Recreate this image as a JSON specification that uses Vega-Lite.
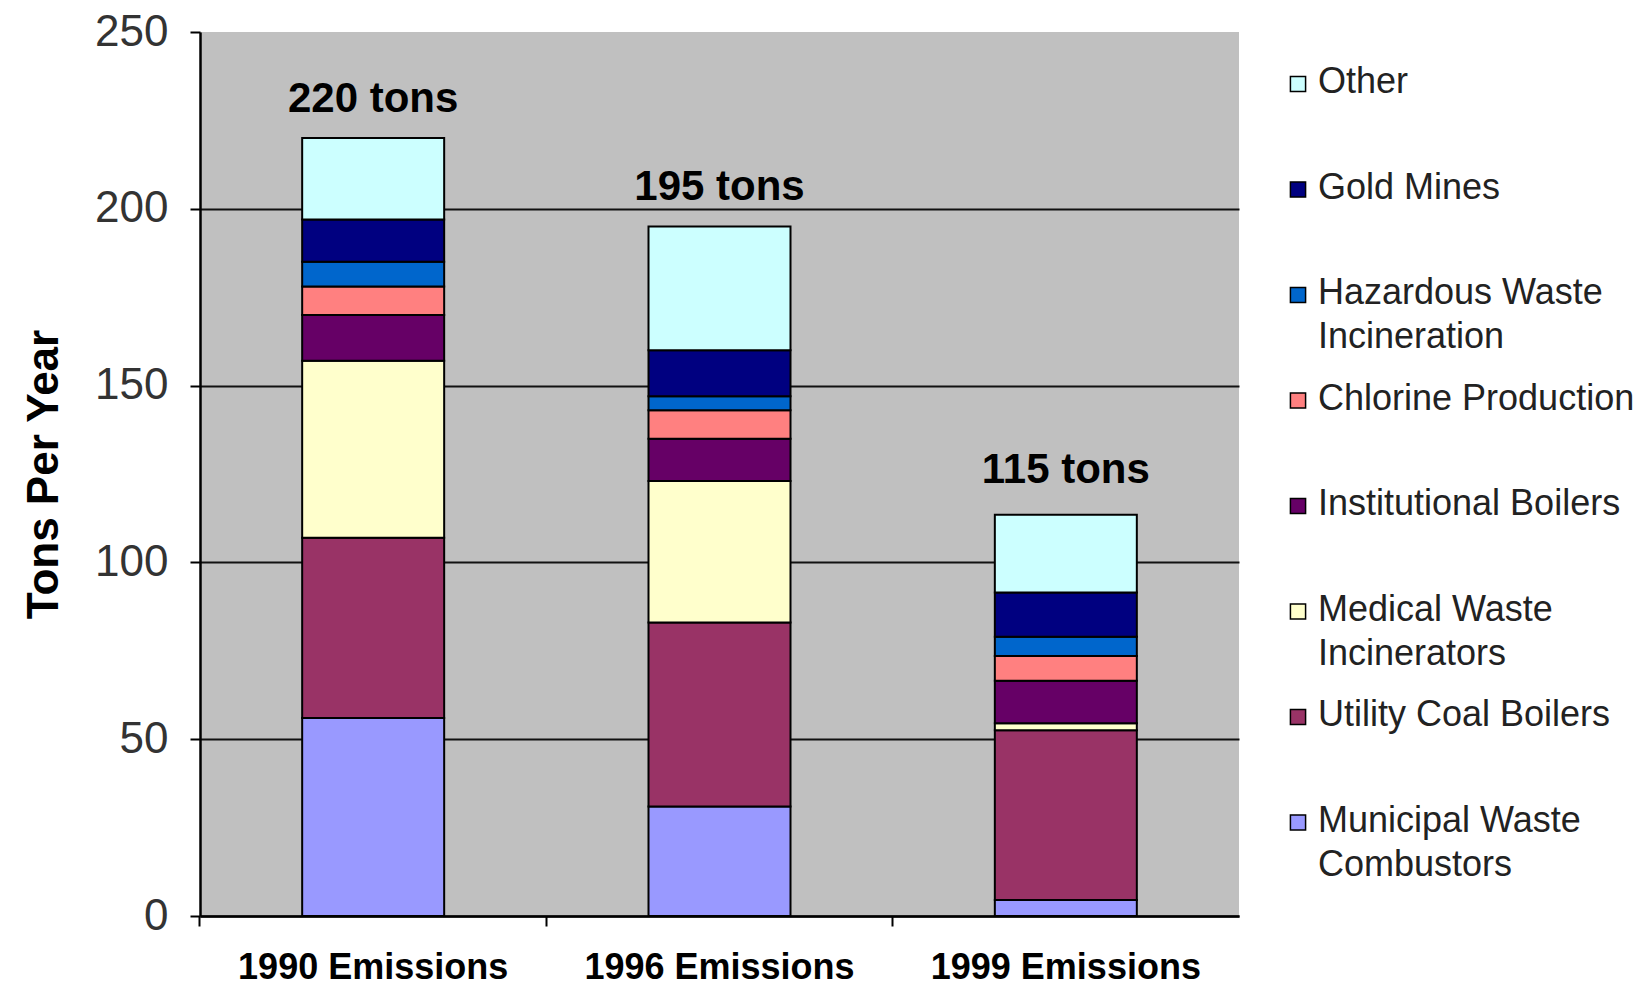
{
  "$schema": "https://vega.github.io/schema/vega-lite/v6.json",
  "width": 1039,
  "height": 884,
  "autosize": {"type": "none"},
  "padding": {"left": 200, "top": 32, "right": 412, "bottom": 71},
  "background": "white",
  "config": {"view": {"fill": "#c0c0c0", "stroke": null}, "font": "Liberation Sans"},
  "layer": [
    {
      "data": {"values": [
        {"year": "1990 Emissions", "source": "Municipal Waste Combustors", "rank": 1, "tons": 56},
        {"year": "1990 Emissions", "source": "Utility Coal Boilers", "rank": 2, "tons": 51},
        {"year": "1990 Emissions", "source": "Medical Waste Incinerators", "rank": 3, "tons": 50},
        {"year": "1990 Emissions", "source": "Institutional Boilers", "rank": 4, "tons": 13},
        {"year": "1990 Emissions", "source": "Chlorine Production", "rank": 5, "tons": 8},
        {"year": "1990 Emissions", "source": "Hazardous Waste Incineration", "rank": 6, "tons": 7},
        {"year": "1990 Emissions", "source": "Gold Mines", "rank": 7, "tons": 12},
        {"year": "1990 Emissions", "source": "Other", "rank": 8, "tons": 23},
        {"year": "1996 Emissions", "source": "Municipal Waste Combustors", "rank": 1, "tons": 31},
        {"year": "1996 Emissions", "source": "Utility Coal Boilers", "rank": 2, "tons": 52},
        {"year": "1996 Emissions", "source": "Medical Waste Incinerators", "rank": 3, "tons": 40},
        {"year": "1996 Emissions", "source": "Institutional Boilers", "rank": 4, "tons": 12},
        {"year": "1996 Emissions", "source": "Chlorine Production", "rank": 5, "tons": 8},
        {"year": "1996 Emissions", "source": "Hazardous Waste Incineration", "rank": 6, "tons": 4},
        {"year": "1996 Emissions", "source": "Gold Mines", "rank": 7, "tons": 13},
        {"year": "1996 Emissions", "source": "Other", "rank": 8, "tons": 35},
        {"year": "1999 Emissions", "source": "Municipal Waste Combustors", "rank": 1, "tons": 4.5},
        {"year": "1999 Emissions", "source": "Utility Coal Boilers", "rank": 2, "tons": 48},
        {"year": "1999 Emissions", "source": "Medical Waste Incinerators", "rank": 3, "tons": 2},
        {"year": "1999 Emissions", "source": "Institutional Boilers", "rank": 4, "tons": 12},
        {"year": "1999 Emissions", "source": "Chlorine Production", "rank": 5, "tons": 7},
        {"year": "1999 Emissions", "source": "Hazardous Waste Incineration", "rank": 6, "tons": 5.5},
        {"year": "1999 Emissions", "source": "Gold Mines", "rank": 7, "tons": 12.5},
        {"year": "1999 Emissions", "source": "Other", "rank": 8, "tons": 22}
      ]},
      "mark": {"type": "bar", "stroke": "#000", "strokeWidth": 2},
      "encoding": {
        "x": {
          "field": "year", "type": "nominal",
          "sort": ["1990 Emissions", "1996 Emissions", "1999 Emissions"],
          "scale": {"paddingInner": 0.59, "paddingOuter": 0.295},
          "axis": {"orient": "bottom", "title": null, "labelAngle": 0, "labelFontSize": 36, "labelFontWeight": "bold", "labelColor": "#000", "labelPadding": 34, "labelLimit": 500, "ticks": false, "domain": true, "domainColor": "#000", "domainWidth": 2.5}
        },
        "y": {
          "field": "tons", "type": "quantitative", "stack": "zero",
          "scale": {"domain": [0, 250], "nice": false},
          "axis": {
            "title": "Tons Per Year", "titleFontSize": 44, "titleFontWeight": "bold", "titleColor": "#000", "titlePadding": 28,
            "values": [0, 50, 100, 150, 200, 250],
            "labelFontSize": 44, "labelColor": "#333", "labelPadding": 22,
            "tickSize": 10, "tickColor": "#000", "tickWidth": 2,
            "domainColor": "#000", "domainWidth": 2.5,
            "gridColor": "#111", "gridWidth": 2,
            "gridOpacity": {"condition": {"test": "datum.value == 250", "value": 0}, "value": 1}
          }
        },
        "order": {"field": "rank", "type": "quantitative", "sort": "ascending"},
        "color": {
          "field": "source", "type": "nominal",
          "scale": {
            "domain": ["Other", "Gold Mines", "Hazardous Waste Incineration", "Chlorine Production", "Institutional Boilers", "Medical Waste Incinerators", "Utility Coal Boilers", "Municipal Waste Combustors"],
            "range": ["#ccffff", "#000080", "#0066cc", "#ff8080", "#660066", "#ffffcc", "#993366", "#9999ff"]
          },
          "legend": {
            "orient": "none", "legendX": 1080, "legendY": 34, "title": null,
            "symbolType": "square", "symbolSize": 230, "symbolStrokeColor": "#000", "symbolStrokeWidth": 1.5,
            "labelFontSize": 36, "labelColor": "#222", "labelLimit": 400, "labelOffset": 2,
            "labelBaseline": "top", "gridAlign": "all", "rowPadding": 25.5, "padding": 0,
            "labelExpr": "datum.label == 'Hazardous Waste Incineration' ? ['Hazardous Waste', 'Incineration'] : datum.label == 'Medical Waste Incinerators' ? ['Medical Waste', 'Incinerators'] : datum.label == 'Municipal Waste Combustors' ? ['Municipal Waste', 'Combustors'] : datum.label",
            "encode": {"labels": {"update": {"dy": {"value": -19}, "lineHeight": {"value": 44}}}}
          }
        }
      }
    },
    {
      "data": {"values": [
        {"year": "1990 Emissions", "total": 220, "label": "220 tons"},
        {"year": "1996 Emissions", "total": 195, "label": "195 tons"},
        {"year": "1999 Emissions", "total": 115, "label": "115 tons"}
      ]},
      "mark": {"type": "text", "fontWeight": "bold", "fontSize": 42, "dy": -39, "baseline": "middle", "color": "#000"},
      "encoding": {
        "x": {
          "field": "year", "type": "nominal",
          "sort": ["1990 Emissions", "1996 Emissions", "1999 Emissions"],
          "axis": {"orient": "bottom", "title": null, "labels": false, "ticks": true, "tickSize": 10, "tickColor": "#000", "tickWidth": 2, "domain": false, "bandPosition": -0.72}
        },
        "y": {"field": "total", "type": "quantitative"},
        "text": {"field": "label"}
      }
    }
  ],
  "resolve": {"axis": {"x": "independent"}}
}
